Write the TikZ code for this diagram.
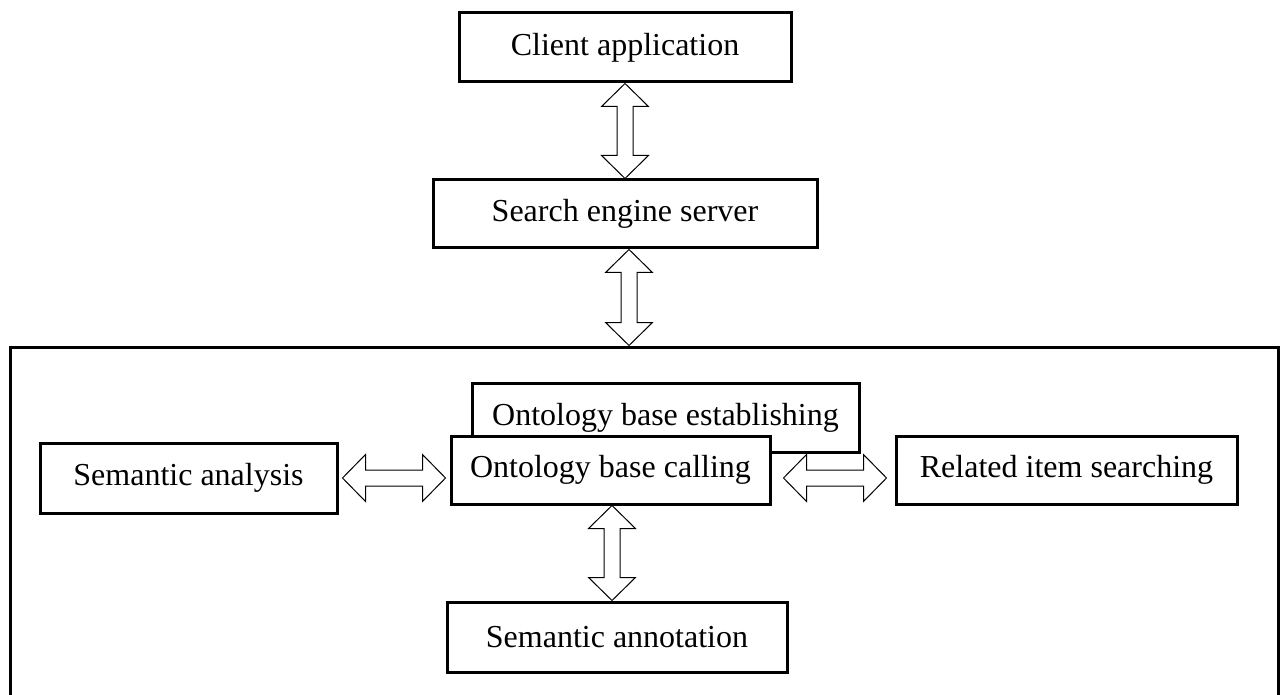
\documentclass[tikz,border=0pt]{standalone}
\usepackage{fontspec}
\setmainfont{Liberation Serif}
\usetikzlibrary{calc}

\tikzset{
  blockbox/.style={draw, line width=2.25pt, fill=white, inner sep=0pt,
    font=\fontsize{24}{28}\selectfont},
  dblarrow/.style={draw, line width=0.75pt, fill=white, line join=miter},
}

% hollow double-headed block arrows: head half-width, shaft half-width, head length
\def\HW{17.6pt}
\def\SW{6pt}
\def\HL{17.25pt}

% vertical: #1 upper tip, #2 lower tip (x taken from #1)
\newcommand{\dblV}[2]{%
  \path[dblarrow] let \p1=#1, \p2=#2 in
    (\x1,\y1) -- (\x1+\HW,\y1-\HL) -- (\x1+\SW,\y1-\HL) -- (\x1+\SW,\y2+\HL)
    -- (\x1+\HW,\y2+\HL) -- (\x1,\y2) -- (\x1-\HW,\y2+\HL) -- (\x1-\SW,\y2+\HL)
    -- (\x1-\SW,\y1-\HL) -- (\x1-\HW,\y1-\HL) -- cycle;}

% horizontal: #1 left tip, #2 right tip (y taken from #1)
\newcommand{\dblH}[2]{%
  \path[dblarrow] let \p1=#1, \p2=#2 in
    (\x1,\y1) -- (\x1+\HL,\y1+\HW) -- (\x1+\HL,\y1+\SW) -- (\x2-\HL,\y1+\SW)
    -- (\x2-\HL,\y1+\HW) -- (\x2,\y1) -- (\x2-\HL,\y1-\HW) -- (\x2-\HL,\y1-\SW)
    -- (\x1+\HL,\y1-\SW) -- (\x1+\HL,\y1-\HW) -- cycle;}

\begin{document}
\begin{tikzpicture}[x=0.75pt, y=-0.75pt]
  \useasboundingbox[fill=white] (0,0) rectangle (1281,695);

  % top chain
  \node[blockbox, minimum width=249pt, minimum height=51.75pt] (client) at (625,47.5) {Client application};
  \node[blockbox, minimum width=288pt, minimum height=51pt] (server) at (625,214) {Search engine server};

  % container of the semantic modules (its lower edge runs off the page)
  \node[draw, line width=2.25pt, minimum width=951pt, minimum height=287.25pt, inner sep=0pt] (outer) at (644,538.5) {};

  % modules
  \node[blockbox, minimum width=290.25pt, minimum height=51.75pt] (establish) at (665.5,417.5) {Ontology base establishing};
  \node[blockbox, minimum width=239.25pt, minimum height=51pt] (calling) at (610.5,470) {Ontology base calling};
  \node[blockbox, minimum width=222.75pt, minimum height=52.5pt] (analysis) at (188.5,478) {Semantic analysis};
  \node[blockbox, minimum width=255.75pt, minimum height=51pt] (related) at (1066.5,470) {Related item searching};
  \node[blockbox, minimum width=255pt, minimum height=52.5pt] (annot) at (617,637) {Semantic annotation};

  % connectors
  \dblV{(client.south)}{(server.north)}
  \dblV{($(server.south)+(4,0)$)}{(outer.north)}
  \dblV{($(calling.south)+(1.5,0)$)}{(annot.north)}
  \dblH{($(analysis.east)+(4,0)$)}{($(calling.west)+(-4,0)$)}
  \dblH{($(calling.east |- analysis.east)+(12,0)$)}{($(related.west)+(-8,0)$)}
\end{tikzpicture}
\end{document}
